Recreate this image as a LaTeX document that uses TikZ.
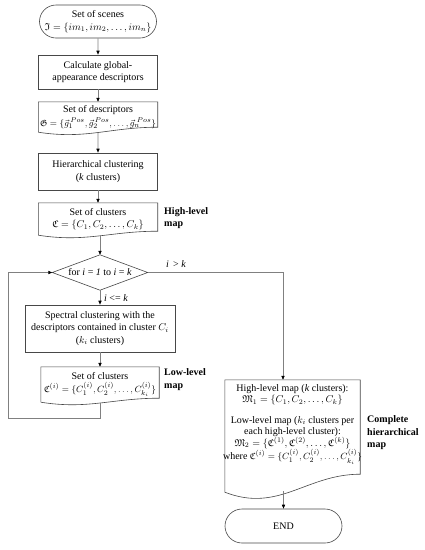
\documentclass[tikz,border=0pt]{standalone}
\usepackage{amssymb}
\usepackage{fontspec}
\setmainfont{Liberation Serif}
\usetikzlibrary{arrows.meta,shapes.misc,calc}
\tikzset{
  boxline/.style={draw=black!72, line width=0.6pt},
  conn/.style={draw=black!50, line width=0.7pt},
  arr/.style={conn, -{Triangle[length=4pt,width=3.2pt,color=black]}},
  txt/.style={font=\fontsize{10}{12.5}\selectfont, align=center, inner sep=1pt},
  procbox/.style={txt, boxline, rectangle, minimum width=119pt},
  term/.style={txt, boxline, rounded rectangle, minimum width=119pt},
  docbox/.style={txt, rectangle, draw=none},
  lbl/.style={font=\fontsize{10}{12.5}\selectfont\bfseries, align=left, anchor=west, inner sep=0pt},
  small/.style={font=\fontsize{10}{12}\selectfont, inner sep=1pt}
}
\newcommand{\fsm}{\fontsize{9.3}{12}\selectfont}
% #1 node name, #2 raise of right corner, #3 dip
\newcommand{\docoutline}[3]{%
  \draw[boxline] (#1.south west) -- (#1.north west) -- (#1.north east) -- ($(#1.south east)+(0pt,#2)$)
  .. controls ($(#1.south west)!0.6!(#1.south east)+(0pt,#2)$) and ($(#1.south west)!0.4!(#1.south east)+(0pt,-3*#3)$) .. (#1.south west)
  coordinate[pos=0.5] (#1-wave);
}
\begin{document}
\begin{tikzpicture}[x=1pt,y=-1pt]
\fill[white] (0,0) rectangle (424,550);
\useasboundingbox (0,0) rectangle (424,550);

% left column
\node[term, minimum height=33pt] (start) at (98,21.5) {Set of scenes\\$\mathfrak{I}=\{im_1,im_2,\ldots,im_n\}$};
\node[procbox, minimum height=34pt] (calcd) at (98,72) {Calculate global-\\appearance descriptors};
\node[docbox, minimum width=119pt, minimum height=30pt] (desc) at (98,117) {Set of descriptors\\[1pt]{\fsm$\mathfrak{G}=\{{\vec{g}}_1^{\,Pos},{\vec{g}}_2^{\,Pos},\ldots,{\vec{g}}_n^{\mkern5mu Pos}\}$}};
\docoutline{desc}{5pt}{2.5pt}
\node[procbox, minimum height=37pt] (hier) at (98,171.5) {Hierarchical clustering\\(\textit{k} clusters)};
\node[docbox, minimum width=119pt, minimum height=32pt] (setc) at (98,219) {Set of clusters\\$\mathfrak{C}=\{C_1,C_2,\ldots,C_k\}$};
\docoutline{setc}{4pt}{2.5pt}

\node[docbox, minimum width=95pt, minimum height=35pt, inner sep=0pt] (dec) at (100,272.5) {for \textit{i} = \textit{1} to \textit{i} = \textit{k}};
\draw[boxline] (dec.west) -- (dec.north) -- (dec.east) -- (dec.south) -- cycle;

\node[procbox, minimum width=150pt, minimum height=47pt] (spec) at (100,328.5) {Spectral clustering with the\\descriptors contained in cluster $C_i$\\($k_i$ clusters)};
\node[docbox, minimum width=118pt, minimum height=35pt] (low) at (100,384.5) {Set of clusters\\[1pt]{\fsm$\mathfrak{C}^{(i)}=\{C_1^{(i)},C_2^{(i)},\ldots,C_{k_i}^{(i)}\}$}};
\docoutline{low}{4pt}{2.5pt}

% right column
\node[docbox, minimum width=135pt, minimum height=112pt] (hlm) at (292.5,436) {};
\docoutline{hlm}{18pt}{7pt}
\node[txt, anchor=north, font=\fontsize{10}{11.5}\selectfont] (hlmtext) at (292.5,383) {High-level map (\textit{k} clusters):\\$\mathfrak{M}_1=\{C_1,C_2,\ldots,C_k\}$\\[9pt]Low-level map ($k_i$ clusters per\\each high-level cluster):\\$\mathfrak{M}_2=\{\mathfrak{C}^{(1)},\mathfrak{C}^{(2)},\ldots,\mathfrak{C}^{(k)}\}$\\where {\fsm$\mathfrak{C}^{(i)}=\{C_1^{(i)},C_2^{(i)},\ldots,C_{k_i}^{(i)}\}$}};
\node[term, minimum height=34pt] (endn) at (283.5,526) {END};

% labels
\node[lbl] (lblhigh) at (164,218) {High-level\\map};
\node[lbl] (lbllow) at (164,379.5) {Low-level\\map};
\node[lbl] (lblcomp) at (367,433) {Complete\\hierarchical\\map};
\node[small] (lblgt) at (176,264) {\textit{i}\, > \textit{k}};
\node[small, anchor=west] (lblle) at (103,298) {\textit{i} <= \textit{k}};

% connectors
\coordinate (loopBL) at (8,418);
\coordinate (turnR) at (283,272.5);
\draw[arr] (start) -- (calcd);
\draw[arr] (calcd) -- (desc.north);
\draw[arr] (desc-wave) -- (hier);
\draw[arr] (hier) -- (setc.north);
\draw[arr] (dec.north |- setc-wave) -- (dec.north);
\draw[arr] (dec.south) -- (spec.north);
\draw[arr] (spec.south) -- (low.north);
\draw[arr] (low-wave) |- (loopBL) |- (dec.west);
\draw[arr] (dec.east) -- (turnR) -- (turnR |- hlm.north);
\draw[arr] (endn.north |- hlm-wave) -- (endn.north);
\end{tikzpicture}
\end{document}
